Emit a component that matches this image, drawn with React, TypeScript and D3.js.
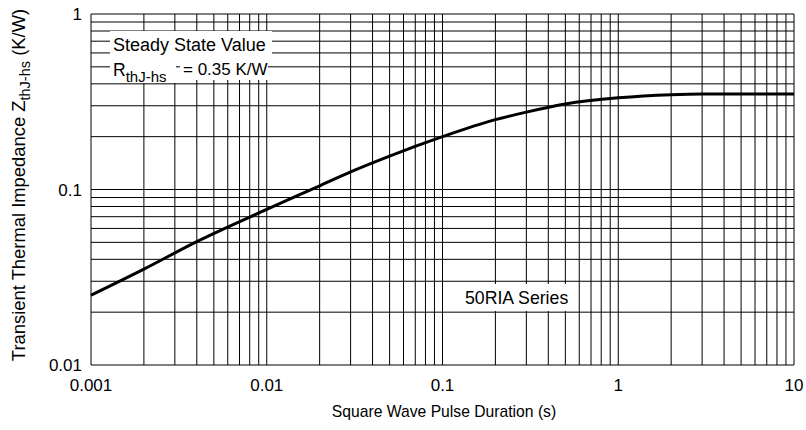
import React, { useEffect, useRef } from "react";
import * as d3 from "d3";

const pulseDuration = [0.001, 0.002, 0.004, 0.01, 0.02, 0.03, 0.05, 0.1, 0.2, 0.3, 0.5, 1, 2, 3, 5, 10];
const impedance = [0.025, 0.0352, 0.0505, 0.077, 0.105, 0.126, 0.155, 0.2, 0.25, 0.276, 0.307, 0.333, 0.347, 0.35, 0.35, 0.35];
const xTickValues = [0.001, 0.01, 0.1, 1, 10];
const xTickLabels = ["0.001", "0.01", "0.1", "1", "10"];
const yTickValues = [0.01, 0.1, 1];
const yTickLabels = ["0.01", "0.1", "1"];

const W = 806;
const H = 430;
const FONT = "'Liberation Sans', Arial, Helvetica, sans-serif";

export default function App() {
  const ref = useRef<SVGSVGElement | null>(null);

  useEffect(() => {
    const svg = d3.select(ref.current);
    svg.selectAll("*").remove();

    const x = d3.scaleLog().domain([0.001, 10]).range([91, 794]);
    const y = d3.scaleLog().domain([0.01, 1]).range([365, 14]);

    const xGrid: number[] = [];
    for (let e = -3; e <= 0; e++) for (let m = 1; m <= 9; m++) xGrid.push(m * Math.pow(10, e));
    xGrid.push(10);
    const yGrid: number[] = [];
    for (let e = -2; e <= -1; e++) for (let m = 1; m <= 9; m++) yGrid.push(m * Math.pow(10, e));
    yGrid.push(1);

    const g = svg.append("g");
    g.selectAll("line.v")
      .data(xGrid)
      .enter()
      .append("line")
      .attr("x1", (d) => x(d))
      .attr("x2", (d) => x(d))
      .attr("y1", y(0.01))
      .attr("y2", y(1))
      .attr("stroke", "#000")
      .attr("stroke-width", 1);
    g.selectAll("line.h")
      .data(yGrid)
      .enter()
      .append("line")
      .attr("x1", x(0.001))
      .attr("x2", x(10))
      .attr("y1", (d) => y(d))
      .attr("y2", (d) => y(d))
      .attr("stroke", "#000")
      .attr("stroke-width", 1);

    const pts = pulseDuration.map((d, i) => [d, impedance[i]] as [number, number]);
    const line = d3
      .line<[number, number]>()
      .x((d) => x(d[0]))
      .y((d) => y(d[1]))
      .curve(d3.curveMonotoneX);
    g.append("path")
      .attr("d", line(pts))
      .attr("fill", "none")
      .attr("stroke", "#000")
      .attr("stroke-width", 3)
      .attr("stroke-linejoin", "round");

    const ann = svg.append("g").attr("font-family", FONT).attr("fill", "#000");
    ann.append("rect").attr("x", 110).attr("y", 31).attr("width", 162).attr("height", 26).attr("fill", "#fff");
    ann.append("rect").attr("x", 110).attr("y", 57).attr("width", 66).attr("height", 26).attr("fill", "#fff");
    ann.append("rect").attr("x", 180).attr("y", 57).attr("width", 88).attr("height", 23).attr("fill", "#fff");
    ann.append("text").attr("x", 113).attr("y", 51).attr("font-size", 18).text("Steady State Value");
    const r = ann.append("text").attr("x", 113).attr("y", 76).attr("font-size", 17.5);
    r.append("tspan").text("R");
    r.append("tspan").attr("font-size", 15).attr("dy", 6).text("thJ-hs");
    ann.append("text").attr("x", 183).attr("y", 75).attr("font-size", 17).text("= 0.35 K/W");

    ann.append("rect").attr("x", 460).attr("y", 284).attr("width", 114).attr("height", 27).attr("fill", "#fff");
    ann.append("text").attr("x", 465).attr("y", 304).attr("font-size", 17.7).text("50RIA Series");

    const labels = svg.append("g").attr("font-family", FONT).attr("fill", "#000");
    labels
      .selectAll("text.x")
      .data(xTickValues)
      .enter()
      .append("text")
      .attr("x", (d) => x(d))
      .attr("y", 391)
      .attr("text-anchor", "middle")
      .attr("font-size", 17)
      .text((d, i) => xTickLabels[i]);
    labels
      .selectAll("text.y")
      .data(yTickValues)
      .enter()
      .append("text")
      .attr("x", 82)
      .attr("y", (d) => y(d) + 6)
      .attr("text-anchor", "end")
      .attr("font-size", 17)
      .text((d, i) => yTickLabels[i]);

    labels
      .append("text")
      .attr("x", 444)
      .attr("y", 417)
      .attr("text-anchor", "middle")
      .attr("font-size", 15.7)
      .text("Square Wave Pulse Duration (s)");

    const yt = labels
      .append("text")
      .attr("transform", "translate(25,185) rotate(-90)")
      .attr("text-anchor", "middle")
      .attr("font-size", 18.4);
    yt.append("tspan").text("Transient Thermal Impedance Z");
    yt.append("tspan").attr("font-size", 14.5).attr("dy", 5).text("thJ-hs");
    yt.append("tspan").attr("dy", -5).text(" (K/W)");
  }, []);

  return (
    <svg
      ref={ref}
      width={W}
      height={H}
      style={{ position: "absolute", left: 0, top: 0, background: "#fff" }}
    />
  );
}
